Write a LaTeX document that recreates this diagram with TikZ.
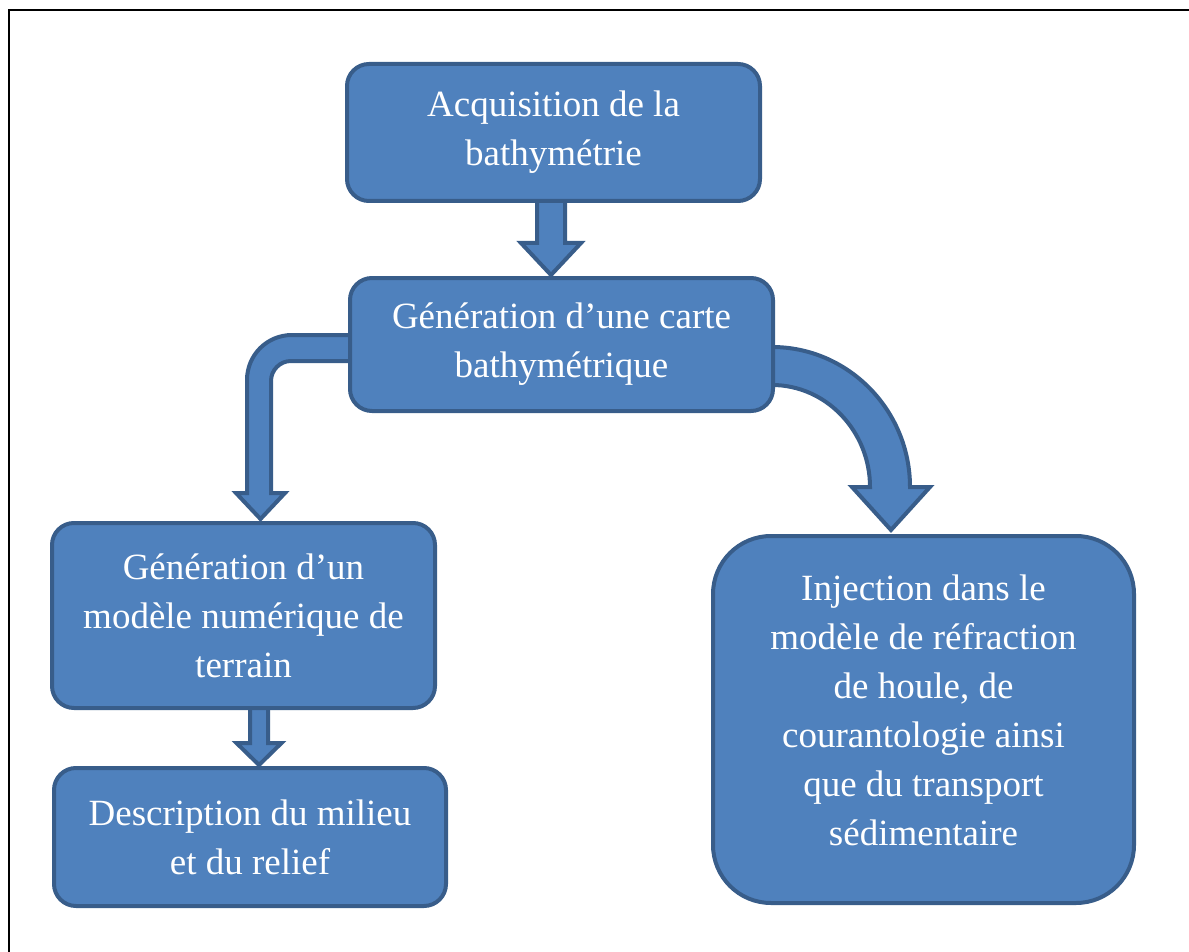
\documentclass[tikz,border=0pt]{standalone}
\usepackage{fontspec}
\setmainfont{Liberation Serif}
\usetikzlibrary{calc,backgrounds}
\definecolor{boxfill}{RGB}{79,129,189}
\definecolor{boxline}{RGB}{56,93,138}

\begin{document}
\begin{tikzpicture}[
    x=1pt, y=-1pt,
    font=\fontsize{37}{49}\selectfont,
    box/.style={draw=boxline, fill=boxfill, line width=4pt, rounded corners=22pt,
      align=center, text=white, inner sep=2pt},
    bigbox/.style={box, rounded corners=58pt},
    boxtext/.style={align=center, text=white, inner sep=0pt},
    blockarrow/.style={draw=boxline, fill=boxfill, line width=4pt, line join=miter}
  ]
    \useasboundingbox (0,0) rectangle (1189,952);
    \draw[line width=2pt] (9,960) -- (9,10) -- (1195,10);

    \node[box, minimum width=413pt, minimum height=137pt] (acq) at (553.5,132.5)
      {Acquisition de la\\bathymétrie};
    \node[box, minimum width=423pt, minimum height=133pt] (carte) at (561.5,344.5)
      {Génération d’une carte\\bathymétrique};
    \node[box, minimum width=383pt, minimum height=185pt] (mnt) at (243.5,615.5)
      {Génération d’un\\modèle numérique de\\terrain};
    \node[box, minimum width=392pt, minimum height=138pt] (desc) at (250,837)
      {Description du milieu\\et du relief};
    \node[bigbox, minimum width=421pt, minimum height=367pt] (inj) at (923.5,719.5) {};
    \node[boxtext] (injtext) at ($(inj.center)+(0,-9)$)
      {Injection dans le\\modèle de réfraction\\de houle, de\\courantologie ainsi\\que du transport\\sédimentaire};

    \begin{scope}[on background layer]
      % straight arrows
      \path[blockarrow] ($(acq.south)+(-16.5,-3)$) -- ++(0,43) -- ++(-16,0)
        -- ++(30,32) -- ++(30,-32) -- ++(-16,0) -- ++(0,-43) -- cycle;
      \path[blockarrow] ($(mnt.south)+(6.5,-3)$) -- ++(0,36) -- ++(-13.5,0)
        -- ++(22.5,22) -- ++(22.5,-22) -- ++(-13.5,0) -- ++(0,-36) -- cycle;
      % bent arrow to the left
      \path[blockarrow] ($(carte.west)+(3,-9.5)$) -- ++(-59,0)
        .. controls +(-25,0) and +(0,-25) .. ++(-45,45)
        -- ++(0,113) -- ++(-11,0) -- ++(24.5,26) -- ++(24.5,-26)
        -- ++(-14,0) -- ++(0,-112)
        .. controls +(0,-11) and +(-11,0) .. ++(20,-20)
        -- ++(60,0) -- cycle;
      % curved arrow to the right
      \path[blockarrow] ($(carte.east)+(-3,2.5)$)
        .. controls +(76,0) and +(0,-77) .. ++(138,140)
        -- ++(20,0) -- ++(-39,43) -- ++(-39,-43) -- ++(18,0)
        .. controls +(0,-56) and +(54,0) .. ++(-98,-102) -- cycle;
    \end{scope}
\end{tikzpicture}
\end{document}
